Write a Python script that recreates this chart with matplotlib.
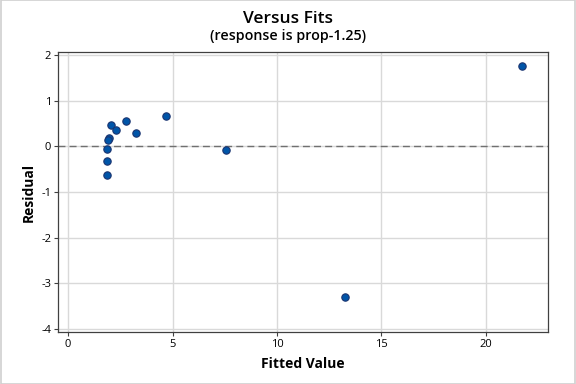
import matplotlib
matplotlib.use("Agg")
import matplotlib.pyplot as plt

# fitted values and residuals
fitted = [21.75, 13.24, 7.55, 4.70, 2.07, 2.31, 2.79, 3.27, 1.97, 1.90, 1.88, 1.88, 1.88]
residual = [1.77, -3.31, -0.07, 0.67, 0.48, 0.36, 0.55, 0.30, 0.18, 0.15, -0.05, -0.33, -0.62]
x_ticks = [0, 5, 10, 15, 20]
y_ticks = [-4, -3, -2, -1, 0, 1, 2]

plt.rcParams["font.family"] = ["Open Sans", "DejaVu Sans"]
plt.rcParams["axes.unicode_minus"] = False

fig = plt.figure(figsize=(5.76, 3.84), dpi=100)
ax = fig.add_axes([0.1007, 0.1354, 0.8503, 0.7292])

ax.grid(True, color="#D9D9D9", linewidth=1.0)
ax.set_axisbelow(True)
ax.axhline(0, color="#707070", linestyle=(0, (5, 3)), linewidth=1.0, zorder=2)
ax.plot(fitted, residual, linestyle="none", marker="o", markersize=5.3,
        markerfacecolor="#0055A8", markeredgecolor="#1A3470",
        markeredgewidth=0.8, zorder=3)

ax.set_xlim(-0.48, 22.96)
ax.set_ylim(-4.07, 2.07)
ax.set_xticks(x_ticks)
ax.set_yticks(y_ticks)
ax.tick_params(labelsize=8, length=3, width=0.8, color="#404040", pad=2)

for s in ["top", "right", "left", "bottom"]:
    ax.spines[s].set_color("#404040")
    ax.spines[s].set_linewidth(0.9)

ax.set_xlabel("Fitted Value", fontsize=10, fontweight="bold", labelpad=5)
ax.set_ylabel("Residual", fontsize=10, fontweight="bold", labelpad=4)

fig.text(0.5, 0.951, "Versus Fits", ha="center", va="center",
         fontsize=12.5, fontweight="semibold")
fig.text(0.5, 0.906, "(response is prop-1.25)", ha="center", va="center",
         fontsize=10.3, fontweight="semibold")

# light frame round the whole picture
fig.patches.append(plt.Rectangle((0.001, 0.001), 0.998, 0.998, transform=fig.transFigure,
                                 fill=False, edgecolor="#D0D0D0", linewidth=1.2))

fig.savefig("out.png", dpi=100)
